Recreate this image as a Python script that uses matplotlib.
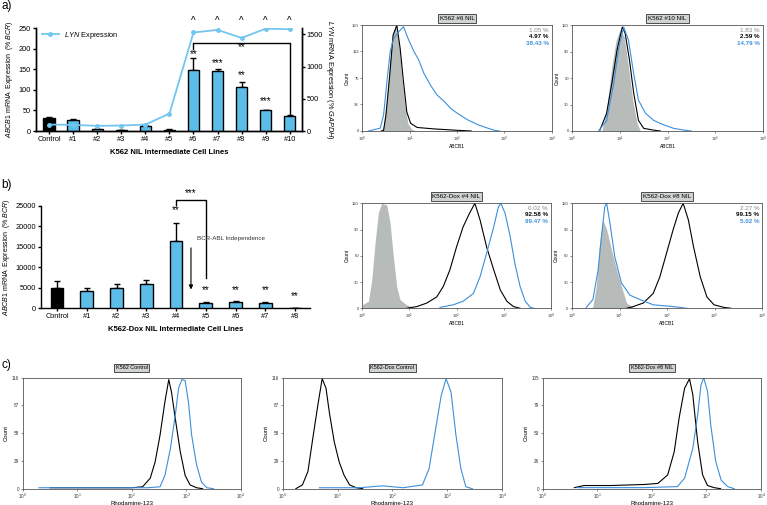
import numpy as np
import matplotlib
matplotlib.use("Agg")
import matplotlib.pyplot as plt
from matplotlib import font_manager

installed = {f.name for f in font_manager.fontManager.ttflist}
NARROW = 'Liberation Sans Narrow' if 'Liberation Sans Narrow' in installed else 'Liberation Sans'

plt.rcParams['font.family'] = ['Liberation Sans', 'DejaVu Sans']
plt.rcParams['mathtext.fontset'] = 'custom'
plt.rcParams['mathtext.rm'] = 'Liberation Sans'
plt.rcParams['mathtext.it'] = NARROW + ':italic'
plt.rcParams['mathtext.bf'] = 'Liberation Sans:bold'

W, H = 767, 505

# ---- panel a bar chart ----
A_LINES = ['Control', '#1', '#2', '#3', '#4', '#5', '#6', '#7', '#8', '#9', '#10']
A_ABCB1 = [31, 27, 5, 2, 11, 3, 148, 146, 106, 50, 36]
A_ABCB1_ERR = [4, 2, 1, 0.5, 3, 1, 30, 5, 13, 2, 2]
A_LYN = [100, 95, 80, 85, 100, 270, 1530, 1570, 1445, 1590, 1580]
A_STARS = {6: '**', 7: '***', 8: '**', 9: '***'}
A_STAR_Y = {6: 187, 7: 165, 8: 136, 9: 72}

# ---- panel b bar chart ----
B_LINES = ['Control', '#1', '#2', '#3', '#4', '#5', '#6', '#7', '#8']
B_ABCB1 = [5000, 4300, 4900, 5800, 16300, 1350, 1650, 1350, 120]
B_ABCB1_ERR = [1600, 700, 950, 1050, 4600, 200, 250, 200, 50]
B_STAR_Y = {4: 22800, 5: 3100, 6: 3100, 7: 3100, 8: 1700}

# ---- flow histograms: (log10 intensity, count) ----
A6_ISO = ([0.40, 0.45, 0.52, 0.59, 0.65, 0.70, 0.77, 0.83, 0.90, 0.96, 1.05, 1.15],
          [0, 8, 46, 103, 141, 150, 127, 80, 37, 11, 2, 0])
A6_BLACK = ([0.40, 0.45, 0.50, 0.58, 0.65, 0.73, 0.80, 0.87, 0.94, 1.02, 1.16, 1.51, 2.0, 2.3],
            [0, 1, 23, 80, 136, 150, 117, 70, 27, 11, 5, 3, 1, 0])
A6_BLUE = ([0.13, 0.38, 0.45, 0.52, 0.59, 0.66, 0.77, 0.87, 0.98, 1.09, 1.19, 1.30, 1.44,
            1.58, 1.73, 1.87, 2.01, 2.22, 2.44, 2.65, 2.79, 2.90],
           [0, 4, 23, 70, 113, 131, 141, 148, 129, 113, 101, 82, 65, 51, 42, 32, 25, 16, 9, 4, 1, 0])

A10_ISO = ([0.62, 0.72, 0.83, 0.92, 1.00, 1.09, 1.18, 1.27, 1.36, 1.43],
           [0, 24, 73, 103, 115, 107, 73, 35, 9, 0])
A10_BLACK = ([0.58, 0.72, 0.83, 0.94, 1.05, 1.11, 1.20, 1.29, 1.39, 1.50, 1.71, 1.85],
             [1, 20, 54, 92, 118, 111, 81, 43, 12, 3, 1, 0])
A10_BLUE = ([0.55, 0.72, 0.87, 0.98, 1.08, 1.18, 1.29, 1.39, 1.54, 1.71, 1.92, 2.13, 2.35, 2.50],
            [0, 12, 54, 96, 118, 103, 65, 35, 20, 12, 7, 3, 1, 0])

B4_ISO = ([0.0, 0.13, 0.20, 0.27, 0.34, 0.41, 0.52, 0.59, 0.66, 0.73, 0.80, 0.94, 1.08, 1.22],
          [4, 8, 32, 74, 109, 120, 118, 97, 59, 25, 10, 4, 1, 0])
B4_BLACK = ([0.94, 1.16, 1.37, 1.58, 1.72, 1.86, 2.00, 2.14, 2.28, 2.39, 2.50, 2.64, 2.79,
             2.93, 3.07, 3.21, 3.35],
            [0, 2, 6, 13, 25, 44, 70, 93, 109, 120, 101, 70, 44, 21, 8, 2, 0])
B4_BLUE = ([1.65, 1.93, 2.14, 2.36, 2.50, 2.64, 2.79, 2.89, 2.94, 3.03, 3.14, 3.24, 3.35,
            3.46, 3.57, 3.65],
           [1, 4, 8, 17, 36, 63, 93, 116, 120, 109, 82, 51, 25, 8, 1, 0])

B8_ISO = ([0.40, 0.44, 0.51, 0.58, 0.65, 0.73, 0.83, 0.94, 1.04, 1.15, 1.29, 1.43],
          [0, 2, 25, 74, 101, 90, 67, 44, 25, 6, 1, 0])
B8_BLUE = ([0.30, 0.44, 0.55, 0.62, 0.69, 0.73, 0.80, 0.90, 1.04, 1.22, 1.43, 1.71, 2.13, 2.42],
           [1, 10, 44, 82, 116, 120, 97, 59, 29, 15, 10, 4, 2, 0])
B8_BLACK = ([1.15, 1.29, 1.50, 1.71, 1.85, 1.99, 2.13, 2.24, 2.34, 2.45, 2.56, 2.70, 2.84,
             2.99, 3.20, 3.35],
            [0, 2, 6, 17, 36, 63, 90, 109, 120, 101, 70, 36, 13, 4, 1, 0])

C1_BLACK = ([0.5, 1.0, 1.5, 2.0, 2.2, 2.34, 2.43, 2.52, 2.61, 2.68, 2.73, 2.79, 2.89, 2.98,
             3.07, 3.19, 3.30],
            [1, 1, 1, 1, 2, 11, 28, 56, 91, 114, 101, 77, 39, 14, 4, 1, 0])
C1_BLUE = ([0.3, 0.8, 1.3, 1.8, 2.3, 2.52, 2.61, 2.71, 2.80, 2.86, 2.92, 2.98, 3.04, 3.10,
            3.19, 3.28, 3.38, 3.50],
           [1, 1, 1, 1, 1, 2, 14, 42, 77, 105, 114, 113, 91, 56, 25, 7, 1, 0])

C2_BLACK = ([0.24, 0.36, 0.46, 0.55, 0.64, 0.72, 0.79, 0.85, 0.94, 1.03, 1.12, 1.22, 1.34, 1.46],
            [0, 4, 18, 53, 87, 115, 105, 80, 49, 28, 14, 4, 1, 0])
C2_BLUE = ([0.67, 1.0, 1.4, 1.82, 2.2, 2.55, 2.67, 2.80, 2.89, 2.98, 3.07, 3.16, 3.25,
            3.34, 3.46],
           [1, 1, 1, 3, 1, 4, 21, 66, 97, 115, 101, 56, 21, 2, 0])

C3_BLACK = ([0.58, 0.76, 1.25, 1.86, 2.11, 2.29, 2.41, 2.50, 2.60, 2.69, 2.75, 2.84, 2.93,
             3.02, 3.14, 3.26],
            [1, 3, 3, 4, 5, 13, 35, 67, 95, 104, 89, 44, 13, 3, 1, 0])
C3_BLUE = ([0.64, 1.2, 1.86, 2.47, 2.60, 2.75, 2.84, 2.90, 2.95, 3.02, 3.08, 3.17, 3.27,
            3.39, 3.51],
           [1, 1, 1, 2, 10, 38, 70, 98, 105, 92, 60, 26, 8, 2, 0])

BAR_BLUE = '#5dbde9'
LYN_BLUE = '#72c6ef'
FLOW_BLUE = '#3c8fdc'
ISO_GREY = '#b7bbba'


def rect(l, t, r, b):
    return [l / W, 1 - b / H, (r - l) / W, (b - t) / H]


def flow_hist(fig, box, title, ymax, yticks, xlabel, black, blue, iso=None, pcts=None, small=True):
    ax = fig.add_axes(rect(*box))
    ax.set_xscale('log')
    if iso is not None:
        ax.fill_between(10 ** np.array(iso[0]), iso[1], color=ISO_GREY, lw=0)
    ax.plot(10 ** np.array(black[0]), black[1], color='black', lw=0.8)
    ax.plot(10 ** np.array(blue[0]), blue[1], color=FLOW_BLUE, lw=0.8)
    ax.set_xlim(1, 10000)
    ax.set_ylim(0, ymax)
    ax.set_yticks(yticks)
    ax.set_xticks([1, 10, 100, 1000, 10000])
    ax.set_xticklabels(['$10^{0}$', '$10^{1}$', '$10^{2}$', '$10^{3}$', '$10^{4}$'])
    ax.minorticks_off()
    ax.tick_params(labelsize=3 if small else 3.3, length=1.5, width=0.4, pad=1, colors='#333333')
    for s in ax.spines.values():
        s.set_linewidth(0.6)
        s.set_color('#555555')
    ax.set_xlabel(xlabel, fontsize=3.5 if small else 4.3, labelpad=0)
    ax.set_ylabel('Count', fontsize=3.5 if small else 4.3, labelpad=2)
    ax.set_title(title, fontsize=4.5 if small else 4, pad=4 if small else 6,
                 bbox=dict(boxstyle='square,pad=0.3', fc='#cfd3d2', ec='#333333', lw=0.6))
    if pcts is not None:
        styles = [('#888888', 'normal'), ('black', 'bold'), (FLOW_BLUE, 'bold')]
        for i, (txt, (col, wt)) in enumerate(zip(pcts, styles)):
            ax.text(0.985, 0.955 - i * 0.062, txt, transform=ax.transAxes, ha='right',
                    va='center', fontsize=4.5, color=col, fontweight=wt)
    return ax


def bar_style(ax):
    ax.tick_params(labelsize=5.3, length=2.5, width=1, pad=1)
    for lab in ax.get_xticklabels() + ax.get_yticklabels():
        lab.set_fontfamily(NARROW)
    ax.spines['top'].set_visible(False)
    for s in ['left', 'bottom', 'right']:
        ax.spines[s].set_linewidth(1)


fig = plt.figure(figsize=(W / 100, H / 100), dpi=100)

# ================= a) bar chart =================
ax = fig.add_axes(rect(36, 28.3, 301.7, 131))
xa = np.arange(len(A_LINES))
cols = ['black'] + [BAR_BLUE] * (len(A_LINES) - 1)
ax.bar(xa, A_ABCB1, width=0.48, color=cols, edgecolor='black', lw=1, zorder=3)
ax.errorbar(xa, A_ABCB1, yerr=[np.zeros(len(xa)), A_ABCB1_ERR], fmt='none', ecolor='black',
            elinewidth=1, capsize=2.5, capthick=1, zorder=2)
ax.set_xlim(-0.55, 10.5)
ax.set_ylim(0, 250)
ax.set_yticks([0, 50, 100, 150, 200, 250])
ax.set_xticks(xa)
ax.set_xticklabels(A_LINES)
bar_style(ax)
ax.set_ylabel(r'$\it{ABCB1}$ mRNA  Expression  (% $\it{BCR}$)', fontsize=5, labelpad=2.5,
              fontfamily=NARROW)
ax.set_xlabel('K562 NIL Intermediate Cell Lines', fontsize=5.5, fontweight='bold', labelpad=4.5,
              fontfamily=NARROW)
for k, s in A_STARS.items():
    ax.text(k, A_STAR_Y[k], s, ha='center', va='center', fontsize=7)
for k in range(6, 11):
    ax.text(k, 268, '^', ha='center', va='center', fontsize=7, clip_on=False)
ax.plot([6, 6, 10, 10], [200, 215, 215, 42], color='black', lw=1, clip_on=False)
ax.text(8, 205, '**', ha='center', va='center', fontsize=7)

ax2 = ax.twinx()
ax2.plot(xa, A_LYN, color=LYN_BLUE, lw=1.3, marker='o', ms=2.5,
         label=r'$\it{LYN}$ Expression', zorder=5)
ax2.set_ylim(0, 1595)
ax2.set_yticks([0, 500, 1000, 1500])
bar_style(ax2)
ax2.set_ylabel(r'$\it{LYN}$ mRNA Expression (% $\it{GAPDH}$)', fontsize=5.3, rotation=270,
               va='bottom', labelpad=1, fontfamily=NARROW)
leg = ax2.legend(loc='upper left', frameon=False, fontsize=5.3, handlelength=2.2,
                 borderaxespad=0.1, bbox_to_anchor=(0.01, 1.02))
for t in leg.get_texts():
    t.set_fontfamily(NARROW)

# ================= b) bar chart =================
bx = fig.add_axes(rect(40.7, 205.7, 310, 308.3))
xb = np.arange(len(B_LINES))
cols = ['black'] + [BAR_BLUE] * (len(B_LINES) - 1)
bx.bar(xb, B_ABCB1, width=0.43, color=cols, edgecolor='black', lw=1, zorder=3)
bx.errorbar(xb, B_ABCB1, yerr=[np.zeros(len(xb)), B_ABCB1_ERR], fmt='none', ecolor='black',
            elinewidth=1, capsize=2.5, capthick=1, zorder=2)
bx.set_xlim(-0.55, 8.5)
bx.set_ylim(0, 25000)
bx.set_yticks([0, 5000, 10000, 15000, 20000, 25000])
bx.set_xticks(xb)
bx.set_xticklabels(B_LINES)
bar_style(bx)
bx.spines['right'].set_visible(False)
bx.set_ylabel(r'$\it{ABCB1}$ mRNA  Expression  (% $\it{BCR}$)', fontsize=5, labelpad=2.5,
              fontfamily=NARROW)
bx.set_xlabel('K562-Dox NIL Intermediate Cell Lines', fontsize=5.5, fontweight='bold',
              labelpad=4.5, fontfamily=NARROW)
for k, yv in B_STAR_Y.items():
    bx.text(k, yv, '**', ha='center', va='bottom', fontsize=7)
bx.plot([4, 4, 5, 5], [25200, 26400, 26400, 7300], color='black', lw=1, clip_on=False)
bx.text(4.5, 26900, '***', ha='center', va='bottom', fontsize=7, clip_on=False)
bx.annotate('', xy=(4.5, 3900), xytext=(4.5, 15400),
            arrowprops=dict(arrowstyle='-|>', color='black', lw=0.8, mutation_scale=6))
bx.text(4.7, 17100, 'BCR-ABL Independence', fontsize=4.5, ha='left', va='center',
        color='#333333', fontfamily=NARROW)

# ================= a) histograms =================
flow_hist(fig, (362.3, 25.3, 551.7, 131), 'K562 #6 NIL', 150, [0, 38, 75, 113, 150], 'ABCB1',
          A6_BLACK, A6_BLUE, A6_ISO, ['1.05 %', '4.97 %', '38.43 %'])
flow_hist(fig, (572.3, 25.3, 762.7, 131), 'K562 #10 NIL', 120, [0, 30, 60, 90, 120], 'ABCB1',
          A10_BLACK, A10_BLUE, A10_ISO, ['1.83 %', '2.59 %', '14.79 %'])

# ================= b) histograms =================
flow_hist(fig, (362.3, 203.3, 550.7, 308.3), 'K562-Dox #4 NIL', 120, [0, 30, 60, 90, 120],
          'ABCB1', B4_BLACK, B4_BLUE, B4_ISO, ['0.02 %', '92.58 %', '99.47 %'])
flow_hist(fig, (572, 203.3, 762, 308.3), 'K562-Dox #8 NIL', 120, [0, 30, 60, 90, 120],
          'ABCB1', B8_BLACK, B8_BLUE, B8_ISO, ['2.27 %', '99.15 %', '5.02 %'])

# ================= c) histograms =================
flow_hist(fig, (22.7, 377.7, 240.7, 488.7), 'K562 Control', 116, [0, 29, 58, 87, 116],
          'Rhodamine-123', C1_BLACK, C1_BLUE, small=False)
flow_hist(fig, (282.7, 377.7, 502, 488.7), 'K562-Dox Control', 116, [0, 29, 58, 87, 116],
          'Rhodamine-123', C2_BLACK, C2_BLUE, small=False)
flow_hist(fig, (542.7, 377.7, 761, 488.7), 'K562-Dox #8 NIL', 105, [0, 26, 53, 79, 105],
          'Rhodamine-123', C3_BLACK, C3_BLUE, small=False)

fig.text(1 / W, 1 - 6 / H, 'a)', fontsize=8.5, va='center', ha='left')
fig.text(1 / W, 1 - 185 / H, 'b)', fontsize=8.5, va='center', ha='left')
fig.text(1 / W, 1 - 365 / H, 'c)', fontsize=8.5, va='center', ha='left')

fig.savefig('out.png', dpi=100)
